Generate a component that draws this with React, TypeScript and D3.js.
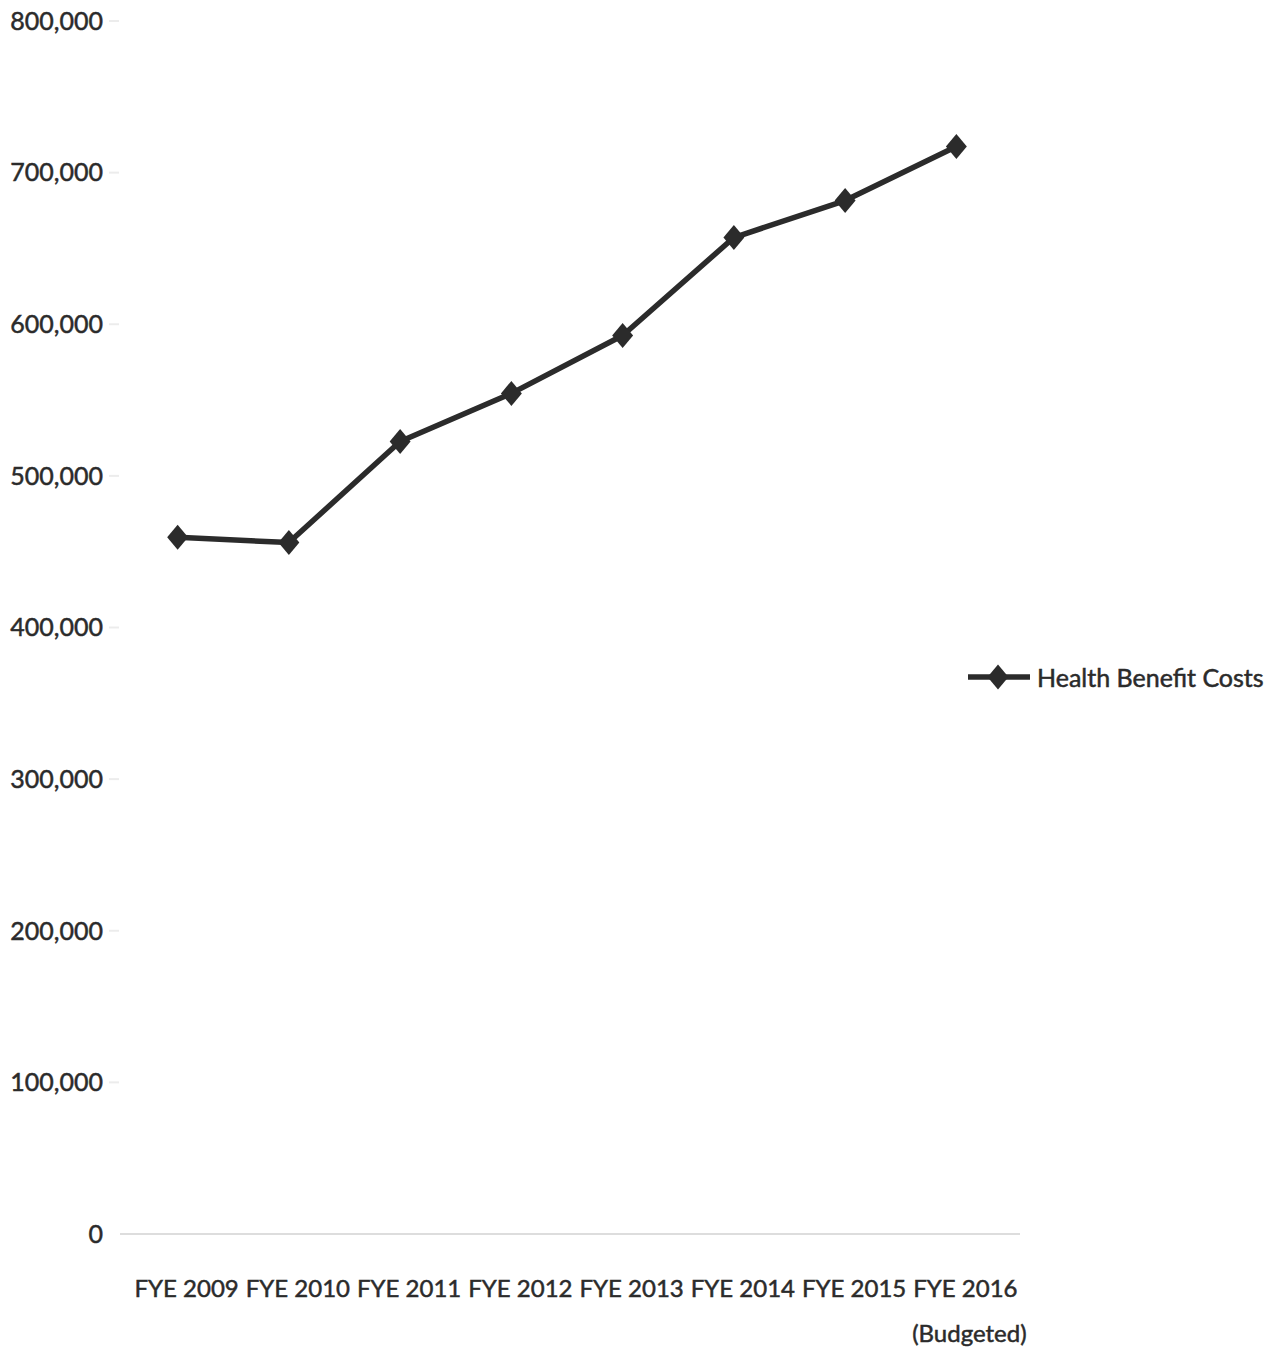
import React, { useEffect, useRef } from 'react';
import * as d3 from 'd3';

const categories = ['FYE 2009', 'FYE 2010', 'FYE 2011', 'FYE 2012', 'FYE 2013', 'FYE 2014', 'FYE 2015', 'FYE 2016'];
const subLabels = ['', '', '', '', '', '', '', '(Budgeted)'];
const costs = [459500, 456000, 522700, 554400, 592600, 657200, 681600, 717200];
const yTicks = [0, 100000, 200000, 300000, 400000, 500000, 600000, 700000, 800000];
const seriesName = 'Health Benefit Costs';

const App = () => {
  const svgRef = useRef<SVGSVGElement>(null);

  useEffect(() => {
    const root = d3.select(svgRef.current);
    root.selectAll('*').remove();

    const width = 1273;
    const height = 1353;
    const font = 'Lato, "Open Sans", sans-serif';
    const ink = '#2b2b2b';

    root.attr('width', width).attr('height', height);

    // scales
    const x = d3.scaleBand<string>()
      .domain(categories)
      .range([122, 1012]);

    const y = d3.scaleLinear()
      .domain([0, 800000])
      .range([1234, 21]);

    const cx = (c: string) => (x(c) as number) + x.bandwidth() / 2;

    const styleText = (sel: any, size = 25) => sel
      .style('font-family', font)
      .style('font-size', size + 'px')
      .attr('fill', ink)
      .attr('stroke', ink)
      .attr('stroke-width', 0.5);

    // y axis labels + faint ticks
    const yAxis = root.append('g');
    yAxis.selectAll('text')
      .data(yTicks)
      .enter()
      .append('text')
      .attr('x', 103)
      .attr('y', d => y(d))
      .attr('dy', '0.35em')
      .attr('text-anchor', 'end')
      .call(styleText)
      .text(d => d3.format(',')(d));

    yAxis.selectAll('line')
      .data(yTicks.filter(d => d > 0))
      .enter()
      .append('line')
      .attr('x1', 109)
      .attr('x2', 119)
      .attr('y1', d => y(d))
      .attr('y2', d => y(d))
      .attr('stroke', '#ececec')
      .attr('stroke-width', 2);

    // baseline
    root.append('line')
      .attr('x1', 120)
      .attr('x2', 1020)
      .attr('y1', y(0))
      .attr('y2', y(0))
      .attr('stroke', '#dddddd')
      .attr('stroke-width', 2);

    // x labels
    const xAxis = root.append('g');
    xAxis.selectAll('text.cat')
      .data(categories)
      .enter()
      .append('text')
      .attr('class', 'cat')
      .attr('x', d => cx(d) + 9)
      .attr('y', 1297)
      .attr('text-anchor', 'middle')
      .call(styleText, 24)
      .text(d => d);

    xAxis.selectAll('text.sub')
      .data(categories.filter((_, i) => subLabels[i]))
      .enter()
      .append('text')
      .attr('class', 'sub')
      .attr('x', d => cx(d) + 13)
      .attr('y', 1342)
      .attr('text-anchor', 'middle')
      .call(styleText, 24)
      .text(d => subLabels[categories.indexOf(d)]);

    // line
    const line = d3.line<number>()
      .x((_, i) => cx(categories[i]))
      .y(d => y(d));

    root.append('path')
      .datum(costs)
      .attr('fill', 'none')
      .attr('stroke', ink)
      .attr('stroke-width', 5.5)
      .attr('stroke-linejoin', 'round')
      .attr('d', line);

    const diamond = d3.symbol().type(d3.symbolDiamond2).size(330);

    root.selectAll('.dot')
      .data(costs)
      .enter()
      .append('path')
      .attr('class', 'dot')
      .attr('d', diamond)
      .attr('transform', (d, i) => `translate(${cx(categories[i])},${y(d)}) scale(0.92,1.1)`)
      .attr('fill', ink);

    // legend
    const legend = root.append('g').attr('transform', 'translate(968,677)');
    legend.append('line')
      .attr('x1', 0)
      .attr('x2', 62)
      .attr('y1', 0)
      .attr('y2', 0)
      .attr('stroke', ink)
      .attr('stroke-width', 5.5);
    legend.append('path')
      .attr('d', diamond)
      .attr('transform', 'translate(30,0) scale(0.92,1.1)')
      .attr('fill', ink);
    legend.append('text')
      .attr('x', 69)
      .attr('y', 1)
      .attr('dy', '0.35em')
      .call(styleText)
      .text(seriesName);
  }, []);

  return (
    <div style={{ position: 'absolute', left: 0, top: 0 }}>
      <svg ref={svgRef} style={{ display: 'block', background: '#fff' }}></svg>
    </div>
  );
};

export default App;
